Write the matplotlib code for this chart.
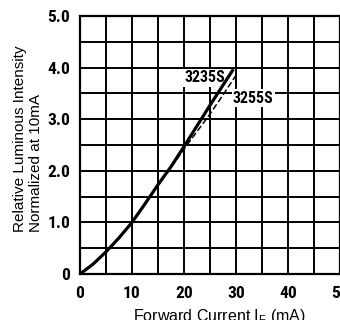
import matplotlib
matplotlib.use("Agg")
import matplotlib.pyplot as plt
import numpy as np

# ---- data ----
current_3235 = [0, 2.5, 5, 7.5, 10, 12.5, 15, 17.5, 20, 22.5, 25, 27.5, 29.5]
intensity_3235 = [0, 0.19, 0.43, 0.70, 1.0, 1.36, 1.73, 2.08, 2.47, 2.87, 3.27, 3.66, 3.97]
current_3255 = [0, 2.5, 5, 7.5, 10, 12.5, 15, 17.5, 20, 22.5, 25, 27.5, 30]
intensity_3255 = [0, 0.19, 0.43, 0.70, 1.0, 1.36, 1.73, 2.06, 2.42, 2.76, 3.10, 3.47, 3.85]
x_ticks = [0, 10, 20, 30, 40, 50]
x_ticklabels = ["0", "10", "20", "30", "40", "50"]
y_ticks = [0, 1, 2, 3, 4, 5]
y_ticklabels = ["0", "1.0", "2.0", "3.0", "4.0", "5.0"]
series_names = ["3235S", "3255S"]

plt.rcParams['mathtext.fontset'] = 'custom'
plt.rcParams['mathtext.rm'] = 'Liberation Sans'
plt.rcParams['mathtext.default'] = 'regular'

cond = ['Roboto Condensed', 'Liberation Sans Narrow', 'DejaVu Sans']
tick_font = dict(family=cond, weight='bold', stretch='condensed', size=12.5)
label_font = dict(family=['Liberation Sans', 'DejaVu Sans'], size=11)

fig = plt.figure(figsize=(3.4, 3.2), dpi=100)
ax = fig.add_axes([80/340, 1-274/320, 1-80/340, (274-16)/320])

ax.set_xlim(0, 50)
ax.set_ylim(0, 5)
ax.set_xticks(x_ticks)
ax.set_xticklabels(x_ticklabels, fontdict=tick_font)
ax.set_xticks(np.arange(5, 50, 10), minor=True)
ax.set_yticks(y_ticks)
ax.set_yticklabels(y_ticklabels, fontdict=tick_font)
ax.set_yticks(np.arange(0.5, 5, 1.0), minor=True)
ax.tick_params(which='both', length=0)
ax.tick_params(axis='x', pad=9)
ax.tick_params(axis='y', pad=7)
ax.grid(True, which='both', color='black', linewidth=1.4)
ax.set_axisbelow(True)
for s in ax.spines.values():
    s.set_linewidth(1.6)
    s.set_color('black')

ax.plot(current_3255, intensity_3255, color='black', linewidth=1.1,
        dashes=(4, 1.8), zorder=3)
ax.plot(current_3235, intensity_3235, color='black', linewidth=2.3, zorder=4,
        solid_capstyle='butt')

lbl_font = dict(family=cond, weight='bold', stretch='condensed', size=11.5)
ax.text(20.1, 3.80, series_names[0], ha='left', va='center', zorder=3.5,
        bbox=dict(facecolor='white', edgecolor='none', pad=0.8), **lbl_font)
ax.text(29.4, 3.41, series_names[1], ha='left', va='center', zorder=3.5,
        bbox=dict(facecolor='white', edgecolor='none', pad=0.8), **lbl_font)

fig.text(28/340, 1-138.5/320, "Relative Luminous Intensity\nNormalized at 10mA",
         rotation=90, ha='center', va='center', multialignment='left',
         linespacing=1.25, **label_font)
fig.text(219/340, -0.002, r"Forward Current I$_{F}$ (mA)", ha='center',
         va='baseline', family=['Liberation Sans', 'DejaVu Sans'], size=11.5)

fig.savefig("out.png", dpi=100)
